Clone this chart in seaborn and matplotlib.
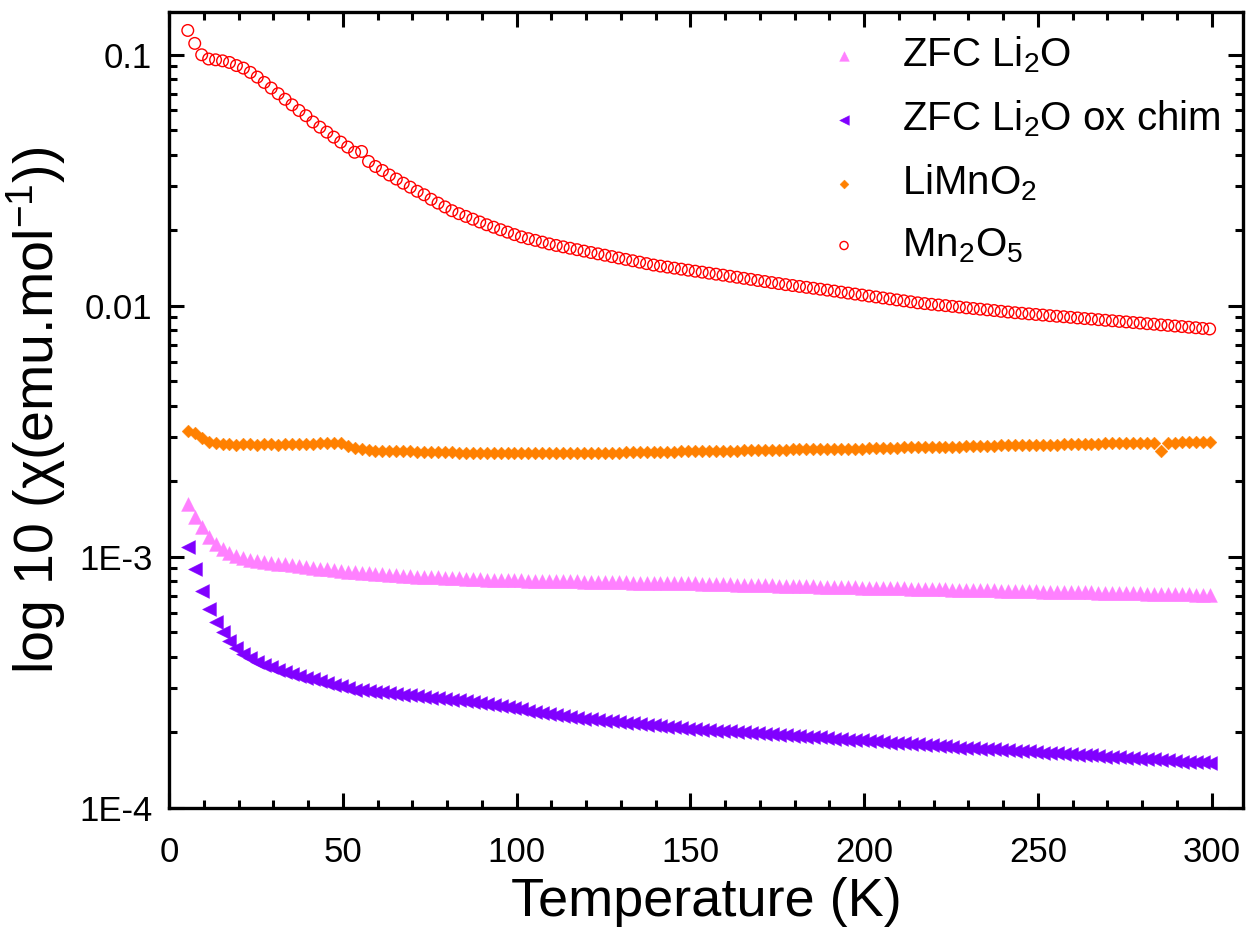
import matplotlib
matplotlib.use("Agg")
import matplotlib.pyplot as plt
import matplotlib.ticker as mticker
import seaborn as sns
import numpy as np

# ---------------- data ----------------
temperature = [
    5.4, 7.4, 9.4, 11.4, 13.4, 15.4, 17.4, 19.4, 21.4, 23.4,
    25.4, 27.4, 29.4, 31.4, 33.4, 35.4, 37.4, 39.4, 41.4, 43.4,
    45.4, 47.4, 49.4, 51.4, 53.4, 55.4, 57.4, 59.4, 61.4, 63.4,
    65.4, 67.4, 69.4, 71.4, 73.4, 75.4, 77.4, 79.4, 81.4, 83.4,
    85.4, 87.4, 89.4, 91.4, 93.4, 95.4, 97.4, 99.4, 101.4, 103.4,
    105.4, 107.4, 109.4, 111.4, 113.4, 115.4, 117.4, 119.4, 121.4, 123.4,
    125.4, 127.4, 129.4, 131.4, 133.4, 135.4, 137.4, 139.4, 141.4, 143.4,
    145.4, 147.4, 149.4, 151.4, 153.4, 155.4, 157.4, 159.4, 161.4, 163.4,
    165.4, 167.4, 169.4, 171.4, 173.4, 175.4, 177.4, 179.4, 181.4, 183.4,
    185.4, 187.4, 189.4, 191.4, 193.4, 195.4, 197.4, 199.4, 201.4, 203.4,
    205.4, 207.4, 209.4, 211.4, 213.4, 215.4, 217.4, 219.4, 221.4, 223.4,
    225.4, 227.4, 229.4, 231.4, 233.4, 235.4, 237.4, 239.4, 241.4, 243.4,
    245.4, 247.4, 249.4, 251.4, 253.4, 255.4, 257.4, 259.4, 261.4, 263.4,
    265.4, 267.4, 269.4, 271.4, 273.4, 275.4, 277.4, 279.4, 281.4, 283.4,
    285.4, 287.4, 289.4, 291.4, 293.4, 295.4, 297.4, 299.4,
]

chi_mn2o5 = [
    0.125, 0.111, 0.100, 0.0962, 0.0955, 0.0946, 0.0932, 0.0906, 0.0885, 0.0851,
    0.0815, 0.0776, 0.0737, 0.0700, 0.0665, 0.0632, 0.0600, 0.0572, 0.0540, 0.0515,
    0.0492, 0.0470, 0.0449, 0.0429, 0.0409, 0.0412, 0.0376, 0.0359, 0.0346, 0.0332,
    0.0320, 0.0308, 0.0297, 0.0286, 0.0277, 0.02657, 0.02566, 0.02478, 0.02393, 0.02329,
    0.02271, 0.02214, 0.02158, 0.02104, 0.02057, 0.02010, 0.01966, 0.01922, 0.01882, 0.01852,
    0.01823, 0.01794, 0.01765, 0.01740, 0.01718, 0.01696, 0.01674, 0.01652, 0.01631, 0.01611,
    0.01591, 0.01571, 0.01551, 0.01531, 0.01512, 0.01493, 0.01473, 0.01454, 0.01440, 0.01427,
    0.01413, 0.01400, 0.01387, 0.01374, 0.01362, 0.01349, 0.01337, 0.01325, 0.01312, 0.01300,
    0.01287, 0.01275, 0.01262, 0.01250, 0.01238, 0.01227, 0.01215, 0.01205, 0.01195, 0.01185,
    0.01175, 0.01165, 0.01155, 0.01145, 0.01134, 0.01124, 0.01114, 0.01104, 0.01094, 0.01085,
    0.01075, 0.01066, 0.01056, 0.01047, 0.01038, 0.01028, 0.01021, 0.01014, 0.01008, 0.01002,
    0.00995, 0.00989, 0.00982, 0.00976, 0.00970, 0.00964, 0.00958, 0.00951, 0.00945, 0.00939,
    0.00934, 0.00929, 0.00924, 0.00919, 0.00914, 0.00909, 0.00905, 0.00900, 0.00895, 0.00890,
    0.00886, 0.00881, 0.00876, 0.00872, 0.00867, 0.00863, 0.00858, 0.00854, 0.00849, 0.00845,
    0.00840, 0.00836, 0.00831, 0.00827, 0.00822, 0.00818, 0.00813, 0.00809,
]

chi_limno2 = [
    0.00318, 0.00311, 0.00297, 0.00287, 0.00283, 0.00281, 0.00281, 0.00280, 0.00281, 0.00281,
    0.00280, 0.00281, 0.00281, 0.00280, 0.00281, 0.00281, 0.00281, 0.00282, 0.00282, 0.00283,
    0.00283, 0.00284, 0.00283, 0.00277, 0.00272, 0.00268, 0.00266, 0.00265, 0.00264, 0.00264,
    0.00263, 0.00263, 0.00263, 0.00262, 0.00262, 0.00262, 0.00261, 0.00261, 0.00261, 0.00260,
    0.00260, 0.00260, 0.00260, 0.00260, 0.00259, 0.00259, 0.00259, 0.00259, 0.00259, 0.00259,
    0.00259, 0.00259, 0.00259, 0.00259, 0.00259, 0.00259, 0.00259, 0.00259, 0.00259, 0.00260,
    0.00260, 0.00260, 0.00260, 0.00261, 0.00261, 0.00261, 0.00261, 0.00262, 0.00262, 0.00262,
    0.00262, 0.00263, 0.00263, 0.00263, 0.00264, 0.00264, 0.00264, 0.00265, 0.00265, 0.00265,
    0.00266, 0.00266, 0.00266, 0.00266, 0.00267, 0.00267, 0.00267, 0.00268, 0.00268, 0.00268,
    0.00268, 0.00269, 0.00269, 0.00269, 0.00269, 0.00270, 0.00270, 0.00270, 0.00271, 0.00271,
    0.00271, 0.00272, 0.00272, 0.00273, 0.00273, 0.00273, 0.00274, 0.00274, 0.00274, 0.00275,
    0.00275, 0.00275, 0.00276, 0.00276, 0.00277, 0.00277, 0.00277, 0.00278, 0.00278, 0.00278,
    0.00279, 0.00279, 0.00279, 0.00280, 0.00280, 0.00280, 0.00281, 0.00281, 0.00281, 0.00282,
    0.00282, 0.00282, 0.00283, 0.00283, 0.00283, 0.00284, 0.00284, 0.00284, 0.00284, 0.00283,
    0.00263, 0.00283, 0.00285, 0.00286, 0.00286, 0.00286, 0.00286, 0.00286,
]

chi_zfc_li2o = [
    0.00162, 0.00144, 0.00131, 0.00120, 0.00113, 0.00108, 0.00104, 0.00101, 0.000990, 0.000975,
    0.000962, 0.000952, 0.000945, 0.000940, 0.000935, 0.000926, 0.000918, 0.000911, 0.000904, 0.000897,
    0.000891, 0.000885, 0.000880, 0.000874, 0.000870, 0.000866, 0.000862, 0.000858, 0.000854, 0.000850,
    0.000846, 0.000842, 0.000839, 0.000835, 0.000833, 0.000831, 0.000828, 0.000826, 0.000824, 0.000821,
    0.000819, 0.000817, 0.000815, 0.000812, 0.000810, 0.000809, 0.000808, 0.000807, 0.000806, 0.000805,
    0.000804, 0.000803, 0.000802, 0.000801, 0.000801, 0.000800, 0.000799, 0.000797, 0.000796, 0.000795,
    0.000794, 0.000793, 0.000792, 0.000791, 0.000790, 0.000789, 0.000789, 0.000788, 0.000787, 0.000786,
    0.000786, 0.000785, 0.000785, 0.000784, 0.000782, 0.000781, 0.000780, 0.000779, 0.000778, 0.000776,
    0.000775, 0.000774, 0.000773, 0.000772, 0.000770, 0.000769, 0.000768, 0.000767, 0.000766, 0.000765,
    0.000763, 0.000762, 0.000761, 0.000760, 0.000759, 0.000758, 0.000757, 0.000755, 0.000754, 0.000753,
    0.000752, 0.000751, 0.000750, 0.000749, 0.000748, 0.000747, 0.000746, 0.000744, 0.000743, 0.000742,
    0.000741, 0.000740, 0.000739, 0.000738, 0.000737, 0.000736, 0.000735, 0.000734, 0.000733, 0.000732,
    0.000731, 0.000730, 0.000729, 0.000728, 0.000728, 0.000727, 0.000726, 0.000725, 0.000724, 0.000723,
    0.000722, 0.000721, 0.000720, 0.000719, 0.000718, 0.000717, 0.000716, 0.000715, 0.000714, 0.000713,
    0.000712, 0.000711, 0.000710, 0.000709, 0.000709, 0.000708, 0.000707, 0.000706,
]

chi_zfc_li2o_ox = [
    0.00110, 0.000893, 0.000733, 0.000621, 0.000548, 0.000501, 0.000464, 0.000433, 0.000411, 0.000395,
    0.000383, 0.000372, 0.000363, 0.000355, 0.000347, 0.000341, 0.000335, 0.000330, 0.000325, 0.000320,
    0.000315, 0.000310, 0.000305, 0.000300, 0.000296, 0.000294, 0.000292, 0.000290, 0.000289, 0.000287,
    0.000285, 0.000283, 0.000281, 0.000279, 0.000277, 0.000275, 0.000273, 0.000271, 0.000270, 0.000268,
    0.000266, 0.000264, 0.000262, 0.000260, 0.000258, 0.000255, 0.000252, 0.000250, 0.000247, 0.000244,
    0.000242, 0.000239, 0.000237, 0.000234, 0.000232, 0.000230, 0.000229, 0.000227, 0.000226, 0.000225,
    0.000223, 0.000222, 0.000220, 0.000219, 0.000218, 0.000216, 0.000215, 0.000214, 0.000212, 0.000211,
    0.000210, 0.000208, 0.000207, 0.000206, 0.000205, 0.000204, 0.000203, 0.000203, 0.000202, 0.000201,
    0.000200, 0.000199, 0.000198, 0.000197, 0.000197, 0.000196, 0.000195, 0.000194, 0.000193, 0.000192,
    0.000192, 0.000191, 0.000190, 0.000189, 0.000188, 0.000187, 0.000187, 0.000186, 0.000185, 0.000184,
    0.000183, 0.000182, 0.000182, 0.000181, 0.000180, 0.000179, 0.000178, 0.000178, 0.000177, 0.000176,
    0.000175, 0.000174, 0.000174, 0.000173, 0.000172, 0.000172, 0.000171, 0.000170, 0.000170, 0.000169,
    0.000168, 0.000168, 0.000167, 0.000166, 0.000166, 0.000165, 0.000164, 0.000164, 0.000163, 0.000162,
    0.000162, 0.000161, 0.000160, 0.000160, 0.000159, 0.000158, 0.000158, 0.000157, 0.000156, 0.000156,
    0.000155, 0.000155, 0.000154, 0.000153, 0.000153, 0.000152, 0.000152, 0.000151,
]

series_labels = ["ZFC Li$_2$O", "ZFC Li$_2$O ox chim", "LiMnO$_2$", "Mn$_2$O$_5$"]
x_ticks = [0, 50, 100, 150, 200, 250, 300]
y_ticks = [1e-4, 1e-3, 1e-2, 1e-1]
y_tick_labels = ["1E-4", "1E-3", "0.01", "0.1"]
x_label = "Temperature (K)"
y_label = "log 10 (\u03c7(emu.mol$^{-1}$))"

# ---------------- style ----------------
sns.set_style("ticks")
plt.rcParams["font.family"] = ["Liberation Sans", "DejaVu Sans"]
plt.rcParams["mathtext.fontset"] = "custom"
plt.rcParams["mathtext.rm"] = "Liberation Sans"
plt.rcParams["mathtext.it"] = "Liberation Sans:italic"
plt.rcParams["mathtext.bf"] = "Liberation Sans:bold"
plt.rcParams["mathtext.default"] = "regular"
for key in ["text.color", "axes.labelcolor", "xtick.color", "ytick.color",
            "axes.edgecolor"]:
    plt.rcParams[key] = "black"

fig = plt.figure(figsize=(12.51, 9.33), dpi=100)
ax = fig.add_axes([0.1351, 0.1340, 0.8585, 0.8531])

col_pink = "#FF80FF"
col_purple = "#8000FF"
col_orange = "#FF8000"
col_red = "#FF0000"

sns.scatterplot(x=temperature, y=chi_zfc_li2o, ax=ax, marker="^", s=100,
                color=col_pink, edgecolor=col_pink, linewidth=0.3,
                label=series_labels[0], zorder=3)
sns.scatterplot(x=temperature, y=chi_zfc_li2o_ox, ax=ax, marker="<", s=100,
                color=col_purple, edgecolor=col_purple, linewidth=0.3,
                label=series_labels[1], zorder=3)
sns.scatterplot(x=temperature, y=chi_limno2, ax=ax, marker="D", s=42,
                color=col_orange, edgecolor=col_orange, linewidth=0.3,
                label=series_labels[2], zorder=3)
sns.scatterplot(x=temperature, y=chi_mn2o5, ax=ax, marker="o", s=70,
                color=col_red, facecolors="none", edgecolor=col_red,
                linewidth=1.0, label=series_labels[3], zorder=3)

ax.set_yscale("log")
ax.set_xlim(0, 309)
ax.set_ylim(1e-4, 0.148)

ax.xaxis.set_major_locator(mticker.FixedLocator(x_ticks))
ax.xaxis.set_minor_locator(mticker.MultipleLocator(10))
ax.yaxis.set_major_locator(mticker.FixedLocator(y_ticks))
ax.yaxis.set_major_formatter(mticker.FixedFormatter(y_tick_labels))
ax.yaxis.set_minor_locator(mticker.LogLocator(base=10, subs=np.arange(2, 10)))
ax.yaxis.set_minor_formatter(mticker.NullFormatter())

for sp in ax.spines.values():
    sp.set_visible(True)
    sp.set_linewidth(2.4)
    sp.set_color("black")

ax.tick_params(which="both", direction="in", top=True, right=True,
               color="black", width=2.2)
ax.tick_params(which="major", length=11, labelsize=25)
ax.tick_params(which="minor", length=6)
ax.tick_params(axis="x", which="major", pad=20)
ax.tick_params(axis="y", which="major", pad=12)

ax.set_xlabel(x_label, fontsize=39, labelpad=6)
ax.set_ylabel(y_label, fontsize=40, labelpad=8)

leg = ax.legend(loc="upper right", frameon=False, fontsize=29,
                markerscale=0.7, handletextpad=0.7, labelspacing=0.58,
                borderaxespad=0.25, handlelength=1.5, borderpad=0.3)

fig.savefig("out.png", dpi=100)
